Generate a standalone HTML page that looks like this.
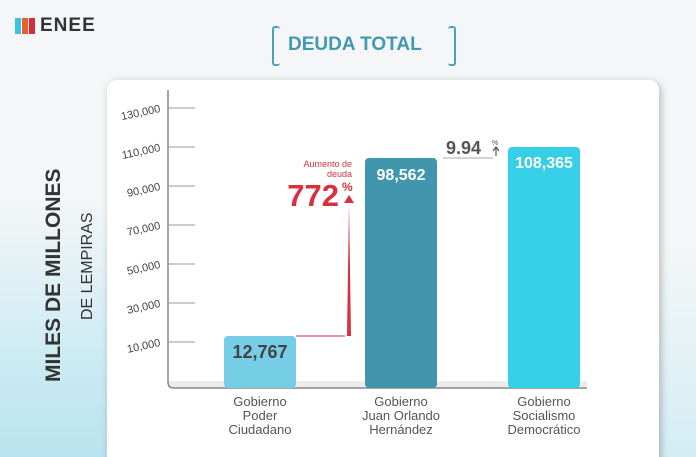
<!DOCTYPE html>
<html><head><meta charset="utf-8"><style>
html,body{margin:0;width:696px;height:457px;overflow:hidden}
body{font-family:"Liberation Sans",sans-serif;background:#f4f6f7;position:relative}
.a{position:absolute}
</style></head><body>
<div class="a" style="left:0;top:200px;width:110px;height:257px;background:linear-gradient(180deg,#f4f6f7,#cdebf3 60%,#b9e3ee)"></div>
<div class="a" style="left:650px;top:250px;width:46px;height:207px;background:linear-gradient(180deg,#f4f6f7,#d3edf4)"></div>
<div class="a" style="left:15px;top:18px;width:6px;height:16px;background:#3cc3df"></div>
<div class="a" style="left:22px;top:18px;width:6px;height:16px;background:#e4612c"></div>
<div class="a" style="left:29px;top:18px;width:6px;height:16px;background:#d92b3a"></div>
<div class="a" style="left:40px;top:15px;font-size:19px;font-weight:bold;color:#333;letter-spacing:1px">ENEE</div>
<div class="a" style="left:272px;top:26px;width:6px;height:36px;border:2px solid #4aa3b8;border-right:none;border-radius:3px"></div>
<div class="a" style="left:448px;top:26px;width:6px;height:36px;border:2px solid #4aa3b8;border-left:none;border-radius:3px"></div>
<div class="a" style="left:288px;top:34px;font-size:19px;font-weight:bold;color:#4299b0">DEUDA TOTAL</div>
<div class="a" style="left:107px;top:80px;width:552px;height:390px;background:#fff;border-radius:10px;box-shadow:2px 2px 8px rgba(0,0,0,.25)"></div>
<svg class="a" style="left:0;top:0" width="696" height="457">
<g transform="translate(60,382) rotate(-90)"><text font-size="21" font-weight="bold" fill="#333" font-family="Liberation Sans">MILES DE MILLONES</text></g>
<g transform="translate(92,320) rotate(-90)"><text font-size="16" fill="#333" font-family="Liberation Sans">DE LEMPIRAS</text></g>
<rect x="168" y="381" width="419" height="7" fill="#ececec"/>
<path d="M168 90 V382 Q168 388 174 388 H587" stroke="#888" stroke-width="1.5" fill="none"/>
<g stroke="#999" stroke-width="1">
<line x1="168" y1="108" x2="195" y2="108"/><line x1="168" y1="147" x2="195" y2="147"/><line x1="168" y1="186" x2="195" y2="186"/><line x1="168" y1="225" x2="195" y2="225"/><line x1="168" y1="264" x2="195" y2="264"/><line x1="168" y1="303" x2="195" y2="303"/><line x1="168" y1="342" x2="195" y2="342"/></g>
<g font-size="11" fill="#444" font-family="Liberation Sans" text-anchor="end">
<text x="160" y="112" transform="rotate(-12 160 108)">130,000</text>
<text x="160" y="151" transform="rotate(-12 160 147)">110,000</text>
<text x="160" y="190" transform="rotate(-12 160 186)">90,000</text>
<text x="160" y="229" transform="rotate(-12 160 225)">70,000</text>
<text x="160" y="268" transform="rotate(-12 160 264)">50,000</text>
<text x="160" y="307" transform="rotate(-12 160 303)">30,000</text>
<text x="160" y="346" transform="rotate(-12 160 342)">10,000</text></g>
<rect x="224" y="336" width="72" height="52" rx="4" fill="#76cde6"/>
<rect x="365" y="158" width="72" height="230" rx="4" fill="#4196ae"/>
<rect x="508" y="147" width="72" height="241" rx="4" fill="#35cfe8"/>
<g font-family="Liberation Sans" font-weight="bold" text-anchor="middle">
<text x="260" y="358" font-size="18" fill="#444">12,767</text>
<text x="401" y="180" font-size="16" fill="#fff">98,562</text>
<text x="544" y="168" font-size="16" fill="#fff">108,365</text></g>
<path d="M296 336 H345" stroke="#d93040" stroke-width="1"/>
<path d="M347 336 L349 204 L351 336Z" fill="#d93040"/>
<path d="M344 203 L349 195 L354 203Z" fill="#d93040"/>
<text x="352" y="167" font-size="9" fill="#d93040" text-anchor="end" font-family="Liberation Sans">Aumento de</text>
<text x="352" y="177" font-size="9" fill="#d93040" text-anchor="end" font-family="Liberation Sans">deuda</text>
<text x="339" y="206" font-size="31" font-weight="bold" fill="#d93040" text-anchor="end" font-family="Liberation Sans">772</text>
<text x="342" y="191" font-size="12" font-weight="bold" fill="#d93040" font-family="Liberation Sans">%</text>
<text x="446" y="154" font-size="18" font-weight="bold" fill="#555" font-family="Liberation Sans">9.94</text>
<text x="492" y="145" font-size="7" fill="#555" font-family="Liberation Sans">%</text>
<path d="M443 158 H493" stroke="#aaa" stroke-width="1"/>
<path d="M496 156 V148 M493 151 L496 147 L499 151" stroke="#555" stroke-width="1.2" fill="none"/>
<g font-size="13" fill="#555" text-anchor="middle" font-family="Liberation Sans">
<text x="260" y="406">Gobierno</text><text x="260" y="420">Poder</text><text x="260" y="434">Ciudadano</text>
<text x="401" y="406">Gobierno</text><text x="401" y="420">Juan Orlando</text><text x="401" y="434">Hernández</text>
<text x="544" y="406">Gobierno</text><text x="544" y="420">Socialismo</text><text x="544" y="434">Democrático</text></g>
</svg>
</body></html>
